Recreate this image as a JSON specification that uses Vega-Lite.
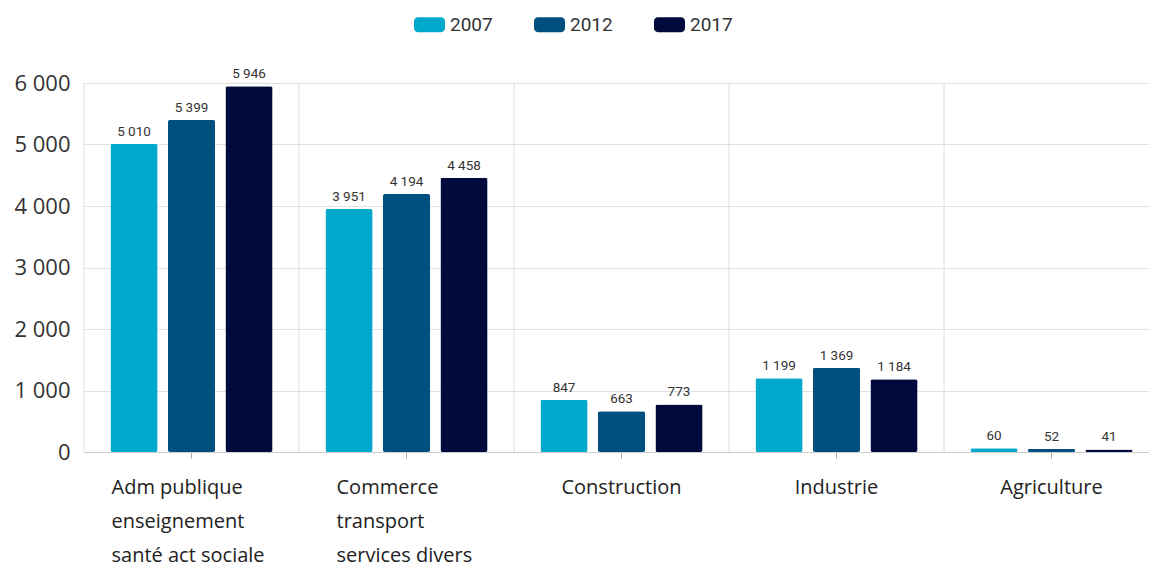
{
  "$schema": "https://vega.github.io/schema/vega-lite/v6.json",
  "width": 1065,
  "height": 369,
  "autosize": {"type": "none"},
  "padding": {"left": 84, "top": 83, "right": 0, "bottom": 115},
  "config": {
    "locale": {"number": {"decimal": ",", "thousands": "\u00a0", "grouping": [3], "currency": ["", " €"]}},
    "view": {"stroke": null},
    "font": "Roboto"
  },
  "datasets": {
    "vals": [
      {"cat": "Adm publique|enseignement|santé act sociale", "year": "2007", "value": 5010},
      {"cat": "Adm publique|enseignement|santé act sociale", "year": "2012", "value": 5399},
      {"cat": "Adm publique|enseignement|santé act sociale", "year": "2017", "value": 5946},
      {"cat": "Commerce|transport|services divers", "year": "2007", "value": 3951},
      {"cat": "Commerce|transport|services divers", "year": "2012", "value": 4194},
      {"cat": "Commerce|transport|services divers", "year": "2017", "value": 4458},
      {"cat": "Construction", "year": "2007", "value": 847},
      {"cat": "Construction", "year": "2012", "value": 663},
      {"cat": "Construction", "year": "2017", "value": 773},
      {"cat": "Industrie", "year": "2007", "value": 1199},
      {"cat": "Industrie", "year": "2012", "value": 1369},
      {"cat": "Industrie", "year": "2017", "value": 1184},
      {"cat": "Agriculture", "year": "2007", "value": 60},
      {"cat": "Agriculture", "year": "2012", "value": 52},
      {"cat": "Agriculture", "year": "2017", "value": 41}
    ],
    "cats": [
      {"cat": "Adm publique|enseignement|santé act sociale"},
      {"cat": "Commerce|transport|services divers"},
      {"cat": "Construction"},
      {"cat": "Industrie"},
      {"cat": "Agriculture"}
    ]
  },
  "layer": [
    {
      "data": {"name": "cats"},
      "mark": {"type": "rule", "color": "#dedede", "strokeWidth": 1},
      "encoding": {
        "x": {
          "field": "cat", "type": "nominal", "bandPosition": 0,
          "scale": {"domain": ["Adm publique|enseignement|santé act sociale", "Commerce|transport|services divers", "Construction", "Industrie", "Agriculture"], "paddingInner": 0, "paddingOuter": 0, "range": [0, 1075]},
          "axis": {
            "title": null, "labelAngle": 0, "domainColor": "#cccccc", "tickColor": "#aaaaaa", "tickSize": 6,
            "labelPadding": 19, "labelFont": "Open Sans", "labelFontSize": 20, "labelColor": "#222222", "labelLineHeight": 34, "labelBaseline": "top",
            "labelExpr": "split(datum.label, '|')",
            "labelAlign": {"condition": {"test": "indexof(datum.value, '|') >= 0", "value": "left"}, "value": "center"},
            "labelOffset": {"condition": [{"test": "indexof(datum.value, 'Adm') == 0", "value": -80}, {"test": "indexof(datum.value, 'Commerce') == 0", "value": -70}], "value": 0},
            "labelLimit": 400
          }
        }
      }
    },
    {
      "data": {"name": "vals"},
      "mark": {"type": "bar", "cornerRadius": 2},
      "encoding": {
        "x": {"field": "cat", "type": "nominal", "scale": {"domain": ["Adm publique|enseignement|santé act sociale", "Commerce|transport|services divers", "Construction", "Industrie", "Agriculture"], "paddingInner": 0, "paddingOuter": 0, "range": [0, 1075]}},
        "xOffset": {"field": "year", "type": "nominal", "scale": {"paddingInner": 0.18, "paddingOuter": 0.46}},
        "y": {
          "field": "value", "type": "quantitative",
          "scale": {"domain": [0, 6000], "nice": false},
          "axis": {"title": null, "values": [0, 1000, 2000, 3000, 4000, 5000, 6000], "format": ",.0f", "domain": false, "ticks": false, "labelPadding": 14, "labelFont": "Open Sans", "labelFontSize": 22, "labelColor": "#333333", "gridColor": "#e0e0e0"}
        },
        "color": {
          "field": "year", "type": "nominal",
          "scale": {"domain": ["2007", "2012", "2017"], "range": ["#00a8cc", "#00507f", "#000a3c"]},
          "legend": {
            "title": null, "orient": "none", "legendX": 330, "legendY": -74, "direction": "horizontal",
            "symbolType": "M-0.75,-0.48H0.75A0.25,0.25 0 0 1 1,-0.23V0.23A0.25,0.25 0 0 1 0.75,0.48H-0.75A0.25,0.25 0 0 1 -1,0.23V-0.23A0.25,0.25 0 0 1 -0.75,-0.48Z",
            "symbolSize": 961, "symbolStrokeWidth": 0, "symbolOpacity": 1,
            "labelFontSize": 19, "labelColor": "#333333", "labelOffset": 5, "columnPadding": 41
          }
        }
      }
    },
    {
      "data": {"name": "vals"},
      "mark": {"type": "text", "baseline": "bottom", "align": "center", "dy": -5, "fontSize": 13.5, "color": "#333333"},
      "encoding": {
        "x": {"field": "cat", "type": "nominal", "scale": {"domain": ["Adm publique|enseignement|santé act sociale", "Commerce|transport|services divers", "Construction", "Industrie", "Agriculture"], "paddingInner": 0, "paddingOuter": 0, "range": [0, 1075]}},
        "xOffset": {"field": "year", "type": "nominal", "scale": {"paddingInner": 0.18, "paddingOuter": 0.46}},
        "y": {"field": "value", "type": "quantitative"},
        "text": {"field": "value", "type": "quantitative", "format": ",.0f"}
      }
    }
  ]
}
